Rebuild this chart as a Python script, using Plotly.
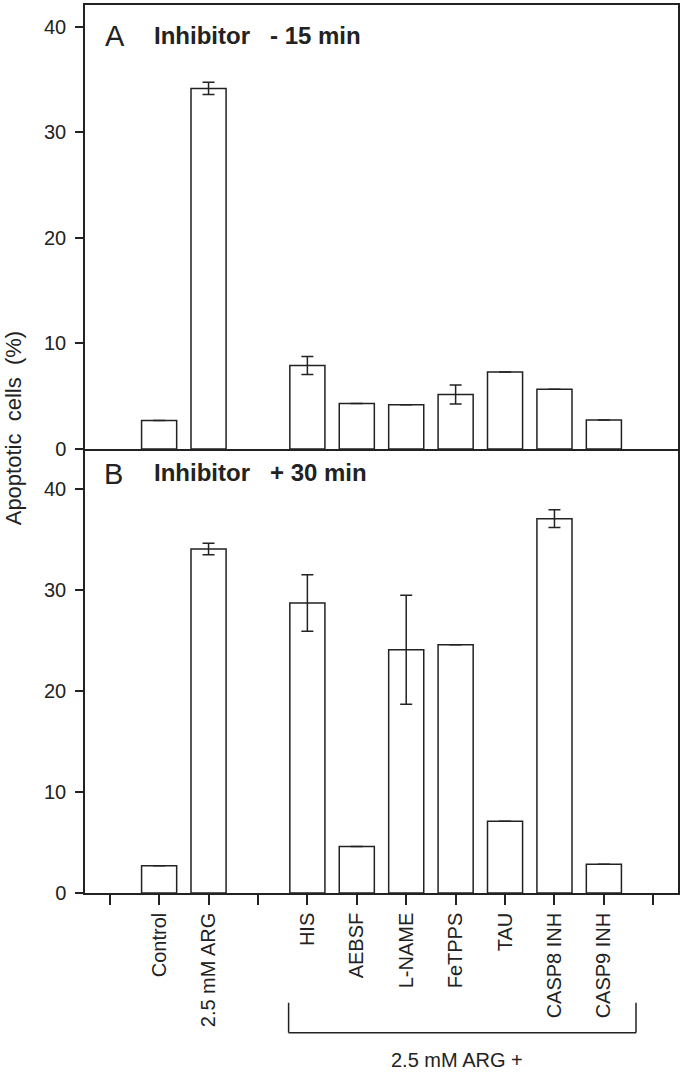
import plotly.graph_objects as go

categories = ["", "Control", "2.5 mM ARG", " ", "HIS", "AEBSF", "L-NAME",
              "FeTPPS", "TAU", "CASP8 INH", "CASP9 INH", "  "]
bar_labels = ["Control", "2.5 mM ARG", "HIS", "AEBSF", "L-NAME",
              "FeTPPS", "TAU", "CASP8 INH", "CASP9 INH"]
values_a = [2.7, 34.15, 7.9, 4.3, 4.2, 5.15, 7.3, 5.65, 2.75]
err_a = [None, 0.58, 0.85, None, None, 0.9, None, None, None]
values_b = [2.7, 34.1, 28.75, 4.6, 24.1, 24.6, 7.1, 37.1, 2.85]
err_b = [None, 0.57, 2.8, None, 5.4, None, None, 0.87, None]
y_ticks = [0, 10, 20, 30, 40]

FONT = "Liberation Sans, Arial, sans-serif"

fig = go.Figure()
for vals, errs, xa, ya in [(values_a, err_a, "x", "y"), (values_b, err_b, "x2", "y2")]:
    fig.add_trace(go.Bar(
        x=bar_labels, y=vals, xaxis=xa, yaxis=ya,
        width=0.71,
        marker=dict(color="white", line=dict(color="#222", width=1.5)),
        error_y=dict(type="data", array=errs, visible=True, color="#222",
                     thickness=1.5, width=6),
        showlegend=False,
    ))

line_common = dict(showline=True, linecolor="#222", linewidth=1.5,
                   showgrid=False, zeroline=False)

fig.update_layout(
    width=683, height=1072,
    margin=dict(l=85, r=3, t=3, b=179),
    paper_bgcolor="white", plot_bgcolor="white",
    font=dict(family=FONT, color="#222"),
    xaxis=dict(**line_common, mirror=True, type="category", categoryorder="array",
               categoryarray=categories, range=[-0.5, 11.5],
               showticklabels=False, ticks="", anchor="y"),
    xaxis2=dict(**line_common, mirror=False, type="category", categoryorder="array",
                categoryarray=categories, range=[-0.5, 11.5],
                ticks="outside", ticklen=10, tickwidth=1.5, tickcolor="#222",
                tickangle=-90, tickfont=dict(size=20, family=FONT),
                anchor="y2", matches="x"),
    yaxis=dict(**line_common, mirror=True, domain=[0.5, 1.0], range=[0, 42.05],
               tickvals=y_ticks, ticks="outside", ticklen=8, tickwidth=1.5,
               tickcolor="#222", tickfont=dict(size=20, family=FONT),
               ticklabelstandoff=5, anchor="x"),
    yaxis2=dict(**line_common, mirror=True, domain=[0.0, 0.5], range=[0, 44.0],
                tickvals=y_ticks, ticks="outside", ticklen=8, tickwidth=1.5,
                tickcolor="#222", tickfont=dict(size=20, family=FONT),
                ticklabelstandoff=5, anchor="x2"),
)

annotations = [
    dict(text="A", xref="x domain", yref="y domain", x=0.030, y=0.930,
         xanchor="left", yanchor="middle", showarrow=False,
         font=dict(size=29, family=FONT)),
    dict(text="<b>Inhibitor\u00a0\u00a0\u00a0- 15 min</b>", xref="x domain", yref="y domain",
         x=0.1126, y=0.932, xanchor="left", yanchor="middle", showarrow=False,
         font=dict(size=24, family=FONT)),
    dict(text="B", xref="x2 domain", yref="y2 domain", x=0.028, y=0.944,
         xanchor="left", yanchor="middle", showarrow=False,
         font=dict(size=29, family=FONT)),
    dict(text="<b>Inhibitor\u00a0\u00a0\u00a0+ 30 min</b>", xref="x2 domain", yref="y2 domain",
         x=0.1126, y=0.946, xanchor="left", yanchor="middle", showarrow=False,
         font=dict(size=24, family=FONT)),
    dict(text="Apoptotic\u00a0\u00a0cells\u00a0\u00a0(%)", xref="paper", yref="paper",
         x=-0.121, y=0.5236, xanchor="center", yanchor="middle", textangle=-90,
         showarrow=False, font=dict(size=22, family=FONT)),
    dict(text="2.5 mM ARG +", xref="paper", yref="paper",
         x=(458 - 85) / 595, y=-0.1876, xanchor="center", yanchor="middle",
         showarrow=False, font=dict(size=20, family=FONT)),
]
fig.update_layout(annotations=annotations)

# bracket grouping the inhibitor-treated conditions
bx0, bx1 = 3.62, 10.65
ytop, ybot = -0.1236, -0.1573
for s in [dict(x0=bx0, x1=bx0, y0=ytop, y1=ybot),
          dict(x0=bx1, x1=bx1, y0=ytop, y1=ybot),
          dict(x0=bx0, x1=bx1, y0=ybot, y1=ybot)]:
    fig.add_shape(type="line", xref="x2", yref="paper",
                  line=dict(color="#222", width=1.5), **s)

fig.write_html("out.html", config={"displayModeBar": False},
               post_script="document.body.style.margin='0px';document.body.style.padding='0px';")
